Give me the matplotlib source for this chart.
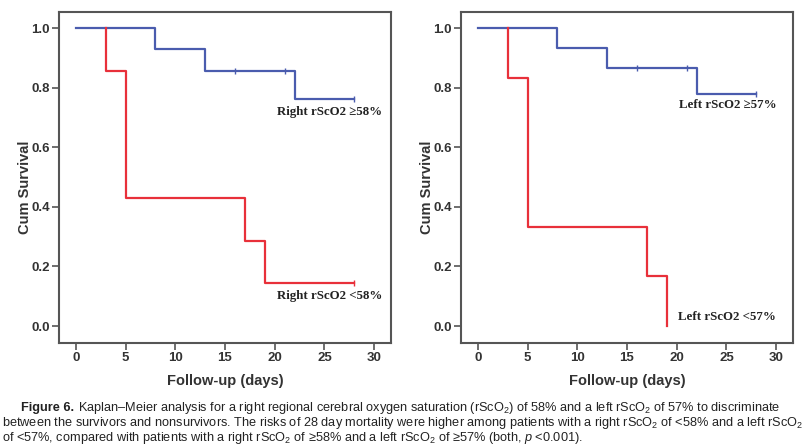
import numpy as np
import matplotlib
matplotlib.use("Agg")
import matplotlib.pyplot as plt

plt.rcParams["font.family"] = ["Liberation Sans", "DejaVu Sans"]
plt.rcParams["mathtext.fontset"] = "custom"
plt.rcParams["mathtext.rm"] = "Liberation Sans"
plt.rcParams["mathtext.it"] = "Liberation Sans:italic"
plt.rcParams["mathtext.bf"] = "Liberation Sans:bold"

# 左图数据 (right rScO2)
r_hi_t = [0, 8, 13, 22, 28]
r_hi_s = [1.0, 0.929, 0.857, 0.762, 0.762]
r_hi_cens_t = [16, 21, 28]
r_hi_cens_s = [0.857, 0.857, 0.762]

r_lo_t = [3, 5, 17, 19, 28]
r_lo_s = [0.857, 0.429, 0.286, 0.143, 0.143]
r_lo_cens_t = [28]
r_lo_cens_s = [0.143]

# 右图数据 (left rScO2)
l_hi_t = [0, 8, 13, 22, 28]
l_hi_s = [1.0, 0.933, 0.867, 0.780, 0.780]
l_hi_cens_t = [16, 21, 28]
l_hi_cens_s = [0.867, 0.867, 0.780]

l_lo_t = [3, 5, 17, 19, 19]
l_lo_s = [0.833, 0.333, 0.167, 0.0, 0.0]
l_lo_cens_t = []
l_lo_cens_s = []

x_ticks = [0, 5, 10, 15, 20, 25, 30]
y_ticks = [0.0, 0.2, 0.4, 0.6, 0.8, 1.0]

caption_lines = [
    "Kaplan\u2013Meier analysis for a right regional cerebral oxygen saturation (rScO$_2$) of 58% and a left rScO$_2$ of 57% to discriminate",
    "between the survivors and nonsurvivors. The risks of 28 day mortality were higher among patients with a right rScO$_2$ of <58% and a left rScO$_2$",
    "of <57%, compared with patients with a right rScO$_2$ of \u226558% and a left rScO$_2$ of \u226557% (both, $p$ <0.001).",
]

BLUE = "#4a5cae"
RED = "#e8303a"
FRAME = "#555555"


def km_line(ax, t, s, color, start_t=0):
    # 阶梯线，从 1.0 开始
    xs = [start_t] + list(t)
    ys = [1.0] + list(s)
    ax.step(xs, ys, where="post", color=color, lw=1.6)


def panel(ax, hi, lo, hi_label, lo_label, hi_xy, lo_xy):
    km_line(ax, hi[0], hi[1], BLUE)
    ax.plot(hi[2], hi[3], ls="none", marker="|", ms=5, mew=1.0, color=BLUE)
    km_line(ax, lo[0], lo[1], RED, start_t=lo[0][0])
    if lo[2]:
        ax.plot(lo[2], lo[3], ls="none", marker="|", ms=5, mew=1.0, color=RED)

    ax.set_xlim(-1.7, 31.7)
    ax.set_ylim(-0.057, 1.054)
    ax.set_xticks(x_ticks)
    ax.set_yticks(y_ticks)
    ax.set_yticklabels([f"{v:.1f}" for v in y_ticks])
    ax.tick_params(length=5, width=1.2, color=FRAME, labelsize=9.5, pad=1.5)
    for lab in ax.get_xticklabels() + ax.get_yticklabels():
        lab.set_fontweight("bold")
        lab.set_color("#333333")
    for sp in ax.spines.values():
        sp.set_color(FRAME)
        sp.set_linewidth(1.5)
    ax.set_xlabel("Follow-up (days)", fontsize=10.5, fontweight="bold", labelpad=7, color="#333333")
    ax.set_ylabel("Cum Survival", fontsize=10.5, fontweight="bold", color="#333333")
    ax.yaxis.set_label_coords(-0.08, 0.47)

    ax.text(hi_xy[0], hi_xy[1], hi_label, family="Liberation Serif", fontweight="bold",
            fontsize=9.3, ha="center", va="center", color="#222222")
    ax.text(lo_xy[0], lo_xy[1], lo_label, family="Liberation Serif", fontweight="bold",
            fontsize=9.3, ha="center", va="center", color="#222222")


fig = plt.figure(figsize=(8.1, 4.47), dpi=100)
ax1 = fig.add_axes([59 / 810, 1 - 343 / 447, 332 / 810, 331 / 447])
ax2 = fig.add_axes([461 / 810, 1 - 343 / 447, 332 / 810, 331 / 447])

panel(ax1, (r_hi_t, r_hi_s, r_hi_cens_t, r_hi_cens_s),
      (r_lo_t, r_lo_s, r_lo_cens_t, r_lo_cens_s),
      "Right rScO2 \u226558%", "Right rScO2 <58%", (25.5, 0.72), (25.5, 0.10))
panel(ax2, (l_hi_t, l_hi_s, l_hi_cens_t, l_hi_cens_s),
      (l_lo_t, l_lo_s, l_lo_cens_t, l_lo_cens_s),
      "Left rScO2 \u226557%", "Left rScO2 <57%", (25.1, 0.743), (25.1, 0.03))

# 图注：字号按宽度自动缩放，使其不超出右边 (约 805 px)
cap = dict(family="Liberation Sans", ha="left", va="center", color="#222222")
ys = [408, 423, 438]
fig.canvas.draw()
renderer = fig.canvas.get_renderer()
t0 = fig.text(21 / 810, 1 - ys[0] / 447, "Figure 6.", fontweight="bold", fontsize=9.6, **cap)
texts = [fig.text(0, 1 - y / 447, s, fontsize=9.6, **cap) for s, y in zip(caption_lines, ys)]

w0 = t0.get_window_extent(renderer).width
widths = [t.get_window_extent(renderer).width for t in texts]
avail = [805 - 21 - w0 - 4, 803, 803]
scale = min(a / w for a, w in zip(avail, widths))
fs = 9.6 * scale
t0.set_fontsize(fs)
for t in texts:
    t.set_fontsize(fs)
x0 = (21 + t0.get_window_extent(renderer).width + 4) / 810
texts[0].set_x(x0)
texts[1].set_x(2 / 810)
texts[2].set_x(2 / 810)

plt.savefig("out.png", dpi=100)
